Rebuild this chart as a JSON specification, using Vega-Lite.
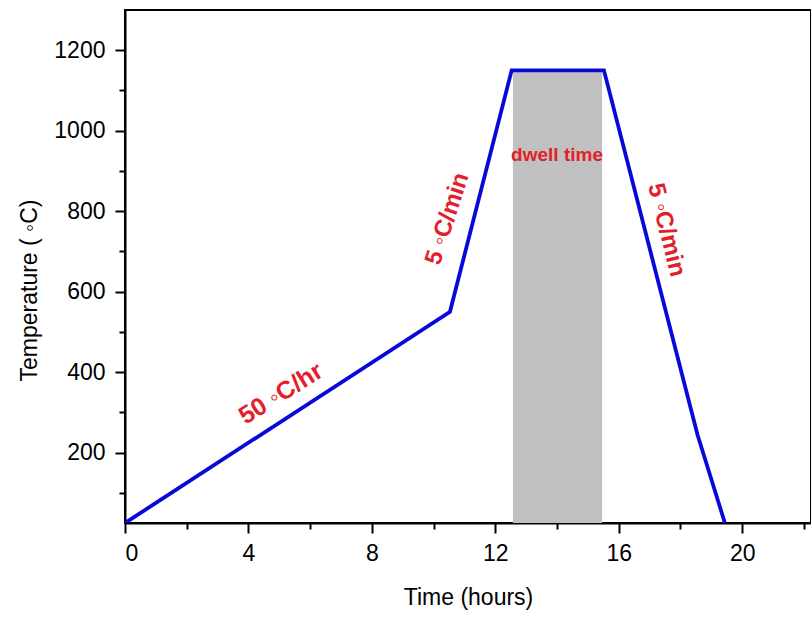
{
  "$schema": "https://vega.github.io/schema/vega-lite/v6.json",
  "width": 686,
  "height": 513,
  "autosize": {"type": "none"},
  "padding": {"left": 125, "top": 10, "right": 0, "bottom": 94},
  "background": "white",
  "config": {
    "view": {"stroke": "black", "strokeWidth": 2},
    "font": "Liberation Sans",
    "axis": {
      "domainColor": "black", "domainWidth": 2, "tickColor": "black", "tickWidth": 2,
      "labelFont": "Liberation Sans", "labelFontSize": 23, "labelColor": "black",
      "titleFont": "Liberation Sans", "titleFontSize": 23, "titleFontWeight": "normal", "titleColor": "black",
      "grid": false
    }
  },
  "datasets": {
    "profile": [
      {"time": 0, "temp": 25},
      {"time": 10.53, "temp": 550},
      {"time": 12.53, "temp": 1150},
      {"time": 15.52, "temp": 1150},
      {"time": 18.55, "temp": 245},
      {"time": 19.44, "temp": 25}
    ],
    "dwell": [{"start": 12.57, "end": 15.46, "low": 25, "high": 1150}]
  },
  "layer": [
    {
      "data": {"name": "dwell"},
      "mark": {"type": "rect", "color": "#c0c0c0"},
      "encoding": {
        "x": {"field": "start", "type": "quantitative"},
        "x2": {"field": "end"},
        "y": {"field": "low", "type": "quantitative"},
        "y2": {"field": "high"}
      }
    },
    {
      "data": {"name": "profile"},
      "mark": {"type": "line", "color": "#0808d8", "strokeWidth": 3.8, "clip": true},
      "encoding": {
        "x": {
          "field": "time", "type": "quantitative",
          "scale": {"domain": [0, 22.23], "nice": false, "zero": false},
          "axis": {
            "title": "Time (hours)",
            "values": [0, 2, 4, 6, 8, 10, 12, 14, 16, 18, 20, 22],
            "labelExpr": "datum.value % 4 === 0 ? datum.label : ''",
            "tickSize": {"condition": {"test": "datum.value % 4 === 0", "value": 10}, "value": 6},
            "labelPadding": 9,
            "titlePadding": 21
          }
        },
        "y": {
          "field": "temp", "type": "quantitative",
          "scale": {"domain": [25, 1300], "nice": false, "zero": false},
          "axis": {
            "title": "Temperature ( ◦C)",
            "values": [100, 200, 300, 400, 500, 600, 700, 800, 900, 1000, 1100, 1200],
            "labelExpr": "datum.value % 200 === 0 ? datum.value : ''",
            "tickSize": {"condition": {"test": "datum.value % 200 === 0", "value": 10}, "value": 6},
            "labelPadding": 10,
            "titlePadding": 12,
            "titleY": 280
          }
        }
      }
    },
    {
      "data": {"values": [{"time": 5.05, "temp": 347, "label": "50 ◦C/hr"}]},
      "mark": {"type": "text", "angle": -32, "align": "center", "baseline": "middle", "color": "#e3202a", "fontWeight": "bold", "fontSize": 25, "font": "Liberation Sans"},
      "encoding": {
        "x": {"field": "time", "type": "quantitative"},
        "y": {"field": "temp", "type": "quantitative"},
        "text": {"field": "label"}
      }
    },
    {
      "data": {"values": [{"time": 10.45, "temp": 781, "label": "5 ◦C/min"}]},
      "mark": {"type": "text", "angle": -72, "align": "center", "baseline": "middle", "color": "#e3202a", "fontWeight": "bold", "fontSize": 24, "font": "Liberation Sans"},
      "encoding": {
        "x": {"field": "time", "type": "quantitative"},
        "y": {"field": "temp", "type": "quantitative"},
        "text": {"field": "label"}
      }
    },
    {
      "data": {"values": [{"time": 17.54, "temp": 753, "label": "5 ◦C/min"}]},
      "mark": {"type": "text", "angle": 76, "align": "center", "baseline": "middle", "color": "#e3202a", "fontWeight": "bold", "fontSize": 24, "font": "Liberation Sans"},
      "encoding": {
        "x": {"field": "time", "type": "quantitative"},
        "y": {"field": "temp", "type": "quantitative"},
        "text": {"field": "label"}
      }
    },
    {
      "data": {"values": [{"time": 14.0, "temp": 939, "label": "dwell time"}]},
      "mark": {"type": "text", "align": "center", "baseline": "middle", "color": "#e3202a", "fontWeight": "bold", "fontSize": 19, "font": "Liberation Sans"},
      "encoding": {
        "x": {"field": "time", "type": "quantitative"},
        "y": {"field": "temp", "type": "quantitative"},
        "text": {"field": "label"}
      }
    }
  ]
}
